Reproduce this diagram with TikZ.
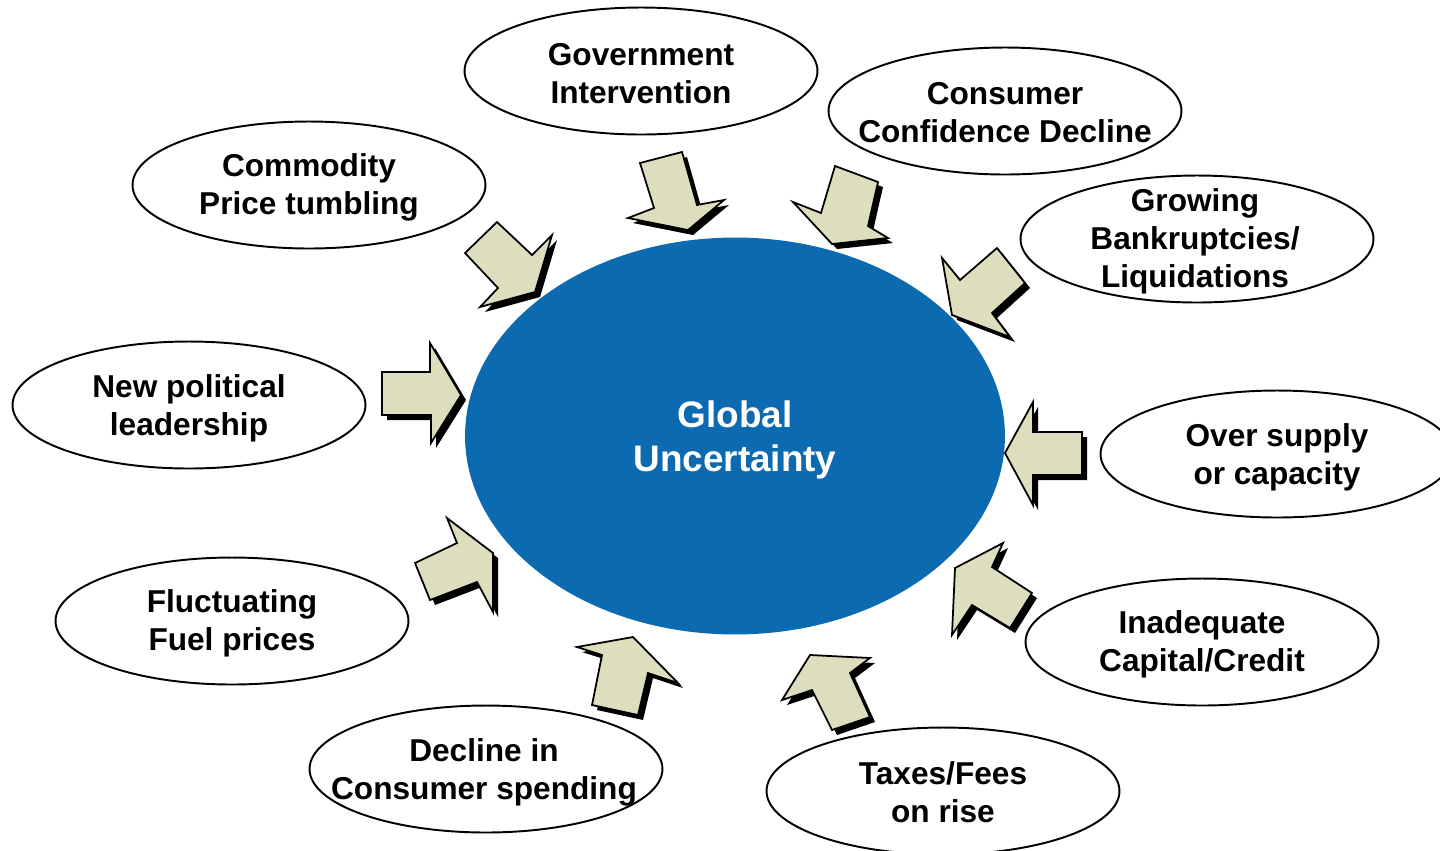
\documentclass[tikz,border=0pt]{standalone}
\usepackage{fontspec}
\setmainfont{Liberation Sans}
\usetikzlibrary{shapes.geometric}
\definecolor{gblue}{RGB}{11,106,176}
\definecolor{abeige}{RGB}{222,222,190}
\tikzset{
 bubble/.style={ellipse, draw=black, line width=1.1pt, fill=white, minimum width=7.06cm, minimum height=2.54cm, inner sep=0pt},
 btext/.style={align=center, font=\bfseries\fontsize{18}{21.6}\selectfont, inner sep=0pt},
 core/.style={ellipse, fill=gblue, minimum width=10.8cm, minimum height=7.94cm, inner sep=0pt},
 coretext/.style={align=center, text=white, font=\bfseries\fontsize{21}{25.5}\selectfont, inner sep=0pt},
 arrowbody/.style={fill=abeige, draw=black, line width=1pt, line join=miter},
 arrowshadow/.style={fill=black},
}
\newcommand\blockarrow[1]{\fill[arrowshadow,shift={(5,5)}] #1 -- cycle; \filldraw[arrowbody] #1 -- cycle;}
\begin{document}
\begin{tikzpicture}[x=0.02cm,y=-0.02cm]
\useasboundingbox (0,0) rectangle (1440,850);
\clip (0,0) rectangle (1440,850);
\fill[white] (0,0) rectangle (1440,850);

% central ellipse
\node[core] (core) at (735,436) {};
\node[coretext] (coret) at (735,440) {Global\\Uncertainty};

% surrounding ellipses
\node[bubble] (gov) at (641,71) {};
\node[btext] (govt) at (641,74) {Government\\Intervention};
\node[bubble] (conf) at (1005,111) {};
\node[btext] (conft) at (1005,113) {Consumer\\Confidence Decline};
\node[bubble] (comm) at (309,185) {};
\node[btext] (commt) at (309,187) {Commodity\\Price tumbling};
\node[bubble] (bank) at (1197,239) {};
\node[btext] (bankt) at (1195,241) {Growing\\Bankruptcies/\\Liquidations};
\node[bubble] (pol) at (189,405) {};
\node[btext] (polt) at (189,408) {New political\\leadership};
\node[bubble] (over) at (1277,454) {};
\node[btext] (overt) at (1277,457) {Over supply\\or capacity};
\node[bubble] (fuel) at (232,621) {};
\node[btext] (fuelt) at (232,623) {Fluctuating\\Fuel prices};
\node[bubble] (cap) at (1202,642) {};
\node[btext] (capt) at (1202,644) {Inadequate\\Capital/Credit};
\node[bubble] (spend) at (486,769) {};
\node[btext] (spendt) at (484,772) {Decline in\\Consumer spending};
\node[bubble] (tax) at (943,791) {};
\node[btext] (taxt) at (943,792) {Taxes/Fees\\on rise};

% block arrows
\blockarrow{(640,163) -- (682,152) -- (697,205) -- (724,200) -- (688,230) -- (628,218) -- (654,208)}
\blockarrow{(835,166) -- (878,182) -- (868,226) -- (888,238) -- (832,244) -- (793,202) -- (821,213)}
\blockarrow{(497,222) -- (532,255) -- (552,235) -- (535,292) -- (480,307) -- (498,288) -- (465,253)}
\blockarrow{(942,258) -- (960,280) -- (997,248) -- (1025,283) -- (992,313) -- (1010,337) -- (952,315)}
\blockarrow{(382,372) -- (430,372) -- (430,343) -- (461,395) -- (431,443) -- (431,415) -- (382,415)}
\blockarrow{(1005,453) -- (1033,402) -- (1033,432) -- (1082,432) -- (1082,475) -- (1033,475) -- (1033,505)}
\blockarrow{(447,518) -- (493,553) -- (493,612) -- (477,582) -- (430,600) -- (415,563) -- (457,543)}
\blockarrow{(955,568) -- (1003,543) -- (992,567) -- (1032,593) -- (1010,628) -- (972,605) -- (952,635)}
\blockarrow{(577,647) -- (633,637) -- (678,683) -- (648,673) -- (638,715) -- (592,705) -- (602,655)}
\blockarrow{(810,655) -- (870,658) -- (850,673) -- (870,717) -- (832,730) -- (812,690) -- (782,700)}
\end{tikzpicture}
\end{document}
